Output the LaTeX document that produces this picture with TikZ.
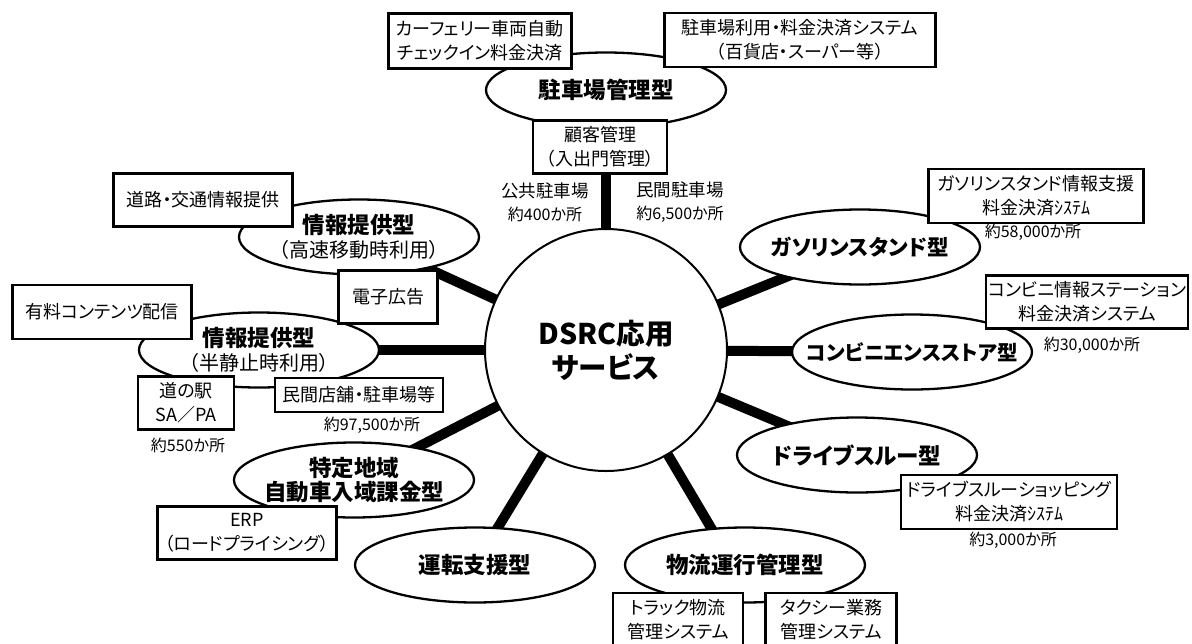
\documentclass[tikz,border=0pt]{standalone}
\usepackage{fontspec}
\setmainfont{Noto Sans CJK JP}[RawFeature=+palt]
\usetikzlibrary{shapes.geometric}
\pgfdeclarelayer{bg}
\pgfsetlayers{bg,main}
\newcommand{\zl}[1]{\makebox[0pt][c]{#1}}
\begin{document}
\begin{tikzpicture}[x=1pt,y=-1pt,
  ell/.style={ellipse,draw,line width=2.3pt,fill=white,minimum width=240pt,minimum height=75pt,inner sep=0pt,align=center,font=\fontsize{22.5}{24.5}\selectfont\bfseries},
  box/.style={rectangle,draw,line width=2.3pt,fill=white,inner sep=0pt,align=center,font=\fontsize{18}{24}\selectfont},
  lbl/.style={align=center,inner sep=0pt,font=\fontsize{16}{23}\selectfont},
  link/.style={line width=10pt}]
\useasboundingbox (0,0) rectangle (1192,643);

% centre
\node[circle,draw,line width=2pt,fill=white,minimum size=242pt,inner sep=0pt,align=center,font=\fontsize{28.5}{34}\selectfont\bfseries] (c) at (606,350) {\zl{DSRC応用}\\\zl{サービス}};

% service ellipses
\node[ell] (p)  at (606,90)  {\zl{駐車場管理型}};
\node[ell] (h1) at (359,237) {\zl{情報提供型}\\\zl{\mdseries\fontsize{20}{24}\selectfont （高速移動時利用）}};
\node[ell] (h2) at (259,350) {\zl{情報提供型}\\\zl{\mdseries\fontsize{20}{24}\selectfont （半静止時利用）}};
\node[ell] (g)  at (860,247) {\zl{\fontsize{21.5}{24}\selectfont ガソリンスタンド型}};
\node[ell] (cv) at (912,352) {\zl{\fontsize{20.5}{24}\selectfont コンビニエンスストア型}};
\node[ell] (d)  at (857,455) {\zl{ドライブスルー型}};
\node[ell] (l)  at (745,565) {\zl{物流運行管理型}};
\node[ell] (u)  at (475,565) {\zl{運転支援型}};
\node[ell] (t)  at (354,480) {\zl{特定地域}\\\zl{自動車入域課金型}};

% boxes
\node[box,minimum width=183pt,minimum height=55pt] (ferry) at (480,41) {カーフェリー車両自動\\チェックイン料金決済};
\node[box,minimum width=271pt,minimum height=54pt] (park) at (800,40) {駐車場利用・料金決済システム\\（百貨店・スーパー等）};
\node[box,minimum width=134pt,minimum height=53pt] (cust) at (600,147) {顧客管理\\（入出門管理）};
\node[box,minimum width=179pt,minimum height=53pt] (road) at (203,200) {道路・交通情報提供};
\node[box,minimum width=99pt,minimum height=53pt] (ad) at (388,297) {電子広告};
\node[box,minimum width=179pt,minimum height=54pt] (pay) at (102,312) {有料コンテンツ配信};
\node[box,minimum width=96pt,minimum height=53pt] (eki) at (186,403) {道の駅\\SA／PA};
\node[box,minimum width=168pt,minimum height=34pt] (shop) at (359,395) {民間店舗・駐車場等};
\node[box,minimum width=179pt,minimum height=53pt] (erp) at (247,533) {ERP\\（ロードプライシング）};
\node[box,minimum width=215pt,minimum height=54pt] (gsb) at (1036,196) {ガソリンスタンド情報支援\\料金決済ｼｽﾃﾑ};
\node[box,minimum width=202pt,minimum height=53pt] (cvb) at (1087,302) {コンビニ情報ステーション\\料金決済システム};
\node[box,minimum width=216pt,minimum height=54pt] (dtb) at (1009,502) {ドライブスルーショッピング\\料金決済ｼｽﾃﾑ};
\node[box,minimum width=130pt,minimum height=54pt] (truck) at (678,620) {トラック物流\\管理システム};
\node[box,minimum width=131pt,minimum height=54pt] (taxi) at (831,620) {タクシー業務\\管理システム};

% labels
\node[lbl] (lpub) at (545,202) {{\fontsize{17.5}{23}\selectfont 公共駐車場}\\約400か所};
\node[lbl] (lpri) at (680,202) {{\fontsize{17.5}{23}\selectfont 民間駐車場}\\約6,500か所};
\node[lbl] (lshop) at (372,425) {約97,500か所};
\node[lbl] (leki) at (188,445) {約550か所};
\node[lbl] (lgs) at (1033,232) {約58,000か所};
\node[lbl] (lcv) at (1092,345) {約30,000か所};
\node[lbl] (ldt) at (1013,540) {約3,000か所};

% links
\begin{pgfonlayer}{bg}
\draw[link] (c.center) -- (c.center |- cust.south);
\draw[link] (c.center) -- (h1.center);
\draw[link] (c.center) -- (h2.center);
\draw[link] (c.center) -- (g.center);
\draw[link] (c.center) -- (cv.center);
\draw[link] (c.center) -- (d.center);
\draw[link] (c.center) -- ([xshift=-12pt]l.center);
\draw[link] (c.center) -- (u.center);
\draw[link] (c.center) -- (t.center);
\end{pgfonlayer}
\end{tikzpicture}
\end{document}
